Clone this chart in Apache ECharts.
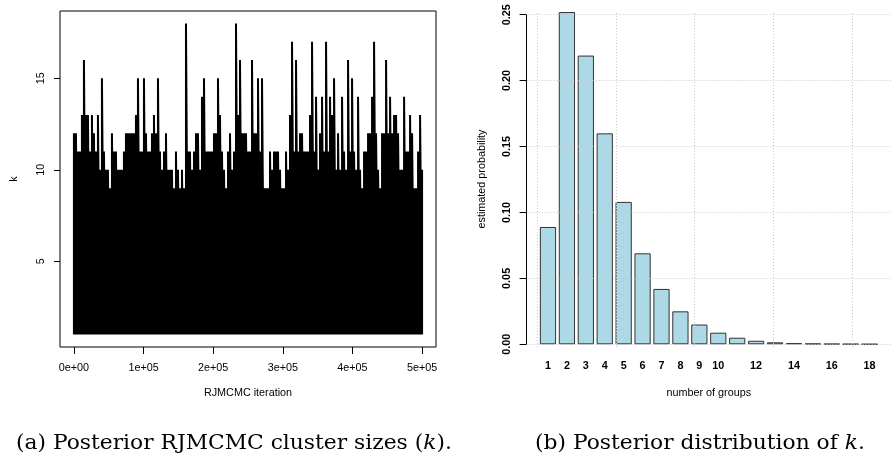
<!DOCTYPE html>
<html>
<head>
<meta charset="utf-8">
<script src="https://cdn.jsdelivr.net/npm/echarts@6/dist/echarts.min.js"></script>
<style>
  html, body { margin: 0; padding: 0; background: #fff; }
  #chart { width: 891px; height: 459px; }
</style>
</head>
<body>
<div id="chart"></div>
<script>
// ---- panel (a): RJMCMC trace of k ----
// the trace is far too dense to read point by point, so it is kept as the
// highest k reached in each ~2px column of the picture; every column also
// drops down to the floor value
const traceFloorK = 1;
const traceColumnMaxK = [
  12, 12, 11, 11, 13, 16, 13, 13, 11, 13, 12, 11, 13, 10, 15, 11, 10, 10, 9, 12,
  11, 11, 10, 10, 10, 11, 12, 12, 12, 12, 12, 13, 15, 11, 11, 15, 12, 11, 11, 12,
  13, 12, 15, 11, 10, 11, 12, 10, 10, 10, 9, 11, 10, 9, 10, 9, 18, 11,
  11, 10, 11, 12, 12, 10, 14, 15, 11, 11, 11, 11, 12, 12, 15, 13, 11, 10, 9, 11,
  12, 10, 11, 18, 13, 16, 12, 12, 12, 11, 11, 16, 12, 12, 15, 11, 15, 9, 9, 9,
  11, 10, 11, 11, 11, 10, 9, 9, 11, 10, 13, 17, 11, 16, 11, 12, 12, 11, 11,
  11, 13, 17, 11, 14, 10, 12, 14, 11, 17, 11, 14, 13, 15, 10, 12, 10, 14, 11, 10,
  16, 11, 15, 11, 10, 14, 10, 9, 11, 11, 12, 12, 14, 17, 12, 10, 9, 12, 12, 16,
  12, 14, 12, 13, 13, 12, 10, 10, 14, 11, 11, 13, 12, 9, 9, 11, 13, 10
];
const lastIteration = 500000;
const iterTicks = [0, 100000, 200000, 300000, 400000, 500000];
const iterTickLabels = ['0e+00', '1e+05', '2e+05', '3e+05', '4e+05', '5e+05'];
const kTicks = [5, 10, 15];

// ---- panel (b): posterior distribution of k ----
const groups = [1, 2, 3, 4, 5, 6, 7, 8, 9, 10, 11, 12, 13, 14, 15, 16, 17, 18];
const groupProb = [0.089, 0.252, 0.219, 0.160, 0.108, 0.069, 0.042, 0.025, 0.015,
  0.0088, 0.005, 0.0027, 0.0015, 0.0009, 0.0005, 0.0003, 0.0002, 0.0001];
// R drops the labels that would collide
const groupTickLabels = ['1', '2', '3', '4', '5', '6', '7', '8', '9', '10', '',
  '12', '', '14', '', '16', '', '18'];
const probTicks = [0, 0.05, 0.1, 0.15, 0.2, 0.25];
const probGridX = [0, 5, 10, 15, 20];

const font = 'Liberation Sans, Arial, sans-serif';
const serif = 'DejaVu Serif, serif';

// trace: floor -> column max, column after column
const step = lastIteration / (traceColumnMaxK.length - 1);
const traceData = [];
traceColumnMaxK.forEach((kMax, i) => {
  traceData.push([i * step, traceFloorK], [i * step, kMax]);
});

// barplot layout like R: width 1, space 0.2
const barCenters = groups.map((g, i) => 0.7 + 1.2 * i);
const barData = groupProb.map((p, i) => [barCenters[i], p]);
const xMinB = -0.656, xMaxB = 22.456;

const chart = echarts.init(document.getElementById('chart'), null, { renderer: 'canvas' });

const axisName = { color: '#000', fontFamily: font, fontSize: 10.8 };

const option = {
  animation: false,
  backgroundColor: '#fff',
  grid: [
    { left: 60, top: 11, width: 376, height: 336, show: true, borderColor: '#000', borderWidth: 1, containLabel: false },
    { left: 526.6, top: 11, width: 375.8, height: 336, show: false, containLabel: false }
  ],
  xAxis: [
    {
      gridIndex: 0, type: 'value', min: -20000, max: 520000,
      axisLine: { show: false, onZero: false },
      splitLine: { show: false },
      axisTick: { show: true, length: 7, customValues: iterTicks, lineStyle: { color: '#000' } },
      axisLabel: {
        customValues: iterTicks, margin: 16, color: '#000', fontFamily: font, fontSize: 10.8,
        formatter: v => iterTickLabels[iterTicks.indexOf(v)]
      },
      name: 'RJMCMC iteration', nameLocation: 'middle', nameGap: 41, nameMoveOverlap: false,
      nameTextStyle: axisName
    },
    {
      gridIndex: 1, type: 'value', min: xMinB, max: xMaxB,
      axisLine: { show: false, onZero: false },
      splitLine: { show: false },
      axisTick: { show: false },
      axisLabel: {
        customValues: barCenters.filter((c, i) => groupTickLabels[i] !== ''),
        margin: 14, color: '#000', fontFamily: font, fontSize: 10.8, fontWeight: 'bold',
        formatter: v => groupTickLabels[Math.round((v - 0.7) / 1.2)]
      },
      name: 'number of groups', nameLocation: 'middle', nameGap: 41, nameMoveOverlap: false,
      nameTextStyle: axisName
    }
  ],
  yAxis: [
    {
      gridIndex: 0, type: 'value', min: 0.32, max: 18.68,
      axisLine: { show: false, onZero: false },
      splitLine: { show: false },
      axisTick: { show: true, length: 6, customValues: kTicks, lineStyle: { color: '#000' } },
      axisLabel: {
        customValues: kTicks, rotate: 90, margin: 13, color: '#000', fontFamily: font, fontSize: 10.8
      },
      name: 'k', nameLocation: 'middle', nameRotate: 90, nameGap: 40, nameMoveOverlap: false,
      nameTextStyle: axisName
    },
    {
      gridIndex: 1, type: 'value', min: -0.00205, max: 0.2528,
      axisLine: { show: false, onZero: false },
      splitLine: { show: false },
      axisTick: { show: true, length: 7, customValues: probTicks, lineStyle: { color: '#000' } },
      axisLabel: {
        customValues: probTicks, rotate: 90, margin: 14, color: '#000', fontFamily: font,
        fontSize: 10.8, fontWeight: 'bold', formatter: v => v.toFixed(2)
      },
      name: 'estimated probability', nameLocation: 'middle', nameRotate: 90, nameGap: 39,
      nameMoveOverlap: false, nameTextStyle: axisName
    }
  ],
  series: [
    {
      type: 'line', xAxisIndex: 0, yAxisIndex: 0, data: traceData,
      showSymbol: false, symbol: 'none', silent: true,
      lineStyle: { color: '#000', width: 2 }
    },
    {
      // dotted grid() lines of the barplot
      type: 'line', xAxisIndex: 1, yAxisIndex: 1, data: [], z: 1, clip: false,
      markLine: {
        silent: true, symbol: 'none', animation: false, label: { show: false },
        lineStyle: { type: [1, 2], color: '#c8c8c8', width: 1 },
        data: probGridX.map(v => ({ xAxis: v }))
          .concat(probTicks.map(v => ({ yAxis: v })))
      }
    },
    {
      type: 'bar', xAxisIndex: 1, yAxisIndex: 1, data: barData, z: 3,
      barWidth: 16.25, silent: true,
      itemStyle: { color: '#ADD8E6', borderColor: '#333', borderWidth: 1 },
      markLine: {
        // y axis segment, 0 to 0.25 only
        silent: true, symbol: 'none', animation: false, label: { show: false },
        lineStyle: { type: 'solid', color: '#000', width: 1 },
        data: [[{ coord: [xMinB, 0] }, { coord: [xMinB, 0.25] }]]
      }
    }
  ],
  graphic: [
    {
      type: 'text', x: 16, y: 444, scaleX: 1.09,
      style: {
        text: '(a) Posterior RJMCMC cluster sizes ({i|k}).',
        font: '20px ' + serif, fill: '#000', align: 'left', verticalAlign: 'middle',
        rich: { i: { fontFamily: serif, fontSize: 20, fontStyle: 'italic', fill: '#000' } }
      }
    },
    {
      type: 'text', x: 535, y: 444, scaleX: 1.09,
      style: {
        text: '(b) Posterior distribution of {i|k}.',
        font: '20px ' + serif, fill: '#000', align: 'left', verticalAlign: 'middle',
        rich: { i: { fontFamily: serif, fontSize: 20, fontStyle: 'italic', fill: '#000' } }
      }
    }
  ]
};

chart.setOption(option);
</script>
</body>
</html>
